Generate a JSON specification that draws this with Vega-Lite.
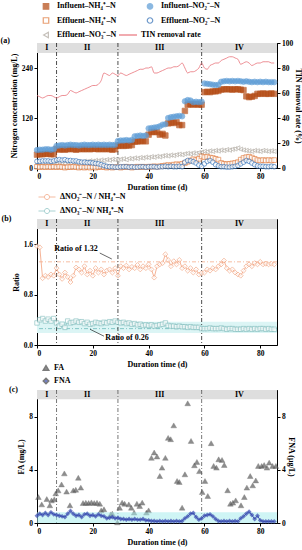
{
"$schema": "https://vega.github.io/schema/vega-lite/v6.json",
"padding": {"left": 0, "top": 1, "right": 0, "bottom": 0},
"background": "white",
"config": {
 "font": "Liberation Serif",
 "view": {"stroke": "#000", "strokeWidth": 1},
 "axis": {"labelFont": "Liberation Serif", "labelFontWeight": "bold", "labelFontSize": 7.5, "labelColor": "#000", "titleFont": "Liberation Serif", "titleFontWeight": "bold", "titleFontSize": 8, "titleColor": "#000", "domainColor": "#000", "tickColor": "#000", "grid": false, "tickSize": 3, "labelPadding": 1.5, "titlePadding": 3},
 "axisX": {"values": [0, 20, 40, 60, 80]},
 "legend": {"labelFont": "Liberation Serif", "labelFontWeight": "bold", "labelFontSize": 8, "labelColor": "#000"},
 "title": {"font": "Liberation Serif", "fontWeight": "bold", "fontSize": 8, "color": "#000"},
 "text": {"font": "Liberation Serif"}
},
"datasets": {
 "phases": [{"p": "I", "d": 0, "e": 7, "m": 3.5}, {"p": "II", "d": 7, "e": 29, "m": 18}, {"p": "III", "d": 29, "e": 59, "m": 44}, {"p": "IV", "d": 59, "e": 86, "m": 72.5}],
 "cuts": [{"d": 7}, {"d": 29}, {"d": 59}],
 "inNH4": [{"d":0,"v":32},{"d":1,"v":33},{"d":2,"v":33},{"d":3,"v":34},{"d":4,"v":34},{"d":5,"v":33},{"d":6,"v":33},{"d":7,"v":46},{"d":8,"v":44},{"d":9,"v":45},{"d":10,"v":44},{"d":11,"v":45},{"d":12,"v":46},{"d":13,"v":45},{"d":14,"v":44},{"d":15,"v":45},{"d":16,"v":46},{"d":17,"v":45},{"d":18,"v":46},{"d":19,"v":45},{"d":20,"v":46},{"d":21,"v":46},{"d":22,"v":45},{"d":23,"v":46},{"d":24,"v":45},{"d":25,"v":46},{"d":26,"v":45},{"d":27,"v":44},{"d":28,"v":45},{"d":29,"v":53},{"d":30,"v":54},{"d":31,"v":53},{"d":32,"v":54},{"d":33,"v":54},{"d":34,"v":55},{"d":35,"v":63},{"d":36,"v":64},{"d":37,"v":64},{"d":38,"v":65},{"d":39,"v":64},{"d":40,"v":80},{"d":41,"v":86},{"d":42,"v":87},{"d":43,"v":86},{"d":44,"v":80},{"d":45,"v":82},{"d":46,"v":78},{"d":47,"v":107},{"d":48,"v":109},{"d":49,"v":108},{"d":50,"v":110},{"d":51,"v":103},{"d":52,"v":103},{"d":53,"v":137},{"d":54,"v":152},{"d":55,"v":153},{"d":56,"v":152},{"d":57,"v":153},{"d":58,"v":152},{"d":59,"v":152},{"d":60,"v":182},{"d":61,"v":183},{"d":62,"v":182},{"d":63,"v":184},{"d":64,"v":184},{"d":65,"v":185},{"d":66,"v":188},{"d":67,"v":189},{"d":68,"v":189},{"d":69,"v":189},{"d":70,"v":188},{"d":71,"v":189},{"d":72,"v":189},{"d":73,"v":188},{"d":74,"v":187},{"d":75,"v":172},{"d":76,"v":170},{"d":77,"v":171},{"d":78,"v":173},{"d":79,"v":178},{"d":80,"v":178},{"d":81,"v":179},{"d":82,"v":178},{"d":83,"v":178},{"d":84,"v":179},{"d":85,"v":178}],
 "inNO2": [{"d":0,"v":43},{"d":1,"v":44},{"d":2,"v":44},{"d":3,"v":45},{"d":4,"v":45},{"d":5,"v":44},{"d":6,"v":45},{"d":7,"v":53},{"d":8,"v":54},{"d":9,"v":55},{"d":10,"v":54},{"d":11,"v":55},{"d":12,"v":56},{"d":13,"v":55},{"d":14,"v":55},{"d":15,"v":54},{"d":16,"v":55},{"d":17,"v":56},{"d":18,"v":55},{"d":19,"v":55},{"d":20,"v":56},{"d":21,"v":55},{"d":22,"v":56},{"d":23,"v":55},{"d":24,"v":56},{"d":25,"v":55},{"d":26,"v":56},{"d":27,"v":55},{"d":28,"v":56},{"d":29,"v":65},{"d":30,"v":66},{"d":31,"v":66},{"d":32,"v":67},{"d":33,"v":66},{"d":34,"v":67},{"d":35,"v":76},{"d":36,"v":77},{"d":37,"v":78},{"d":38,"v":77},{"d":39,"v":78},{"d":40,"v":95},{"d":41,"v":96},{"d":42,"v":97},{"d":43,"v":98},{"d":44,"v":100},{"d":45,"v":104},{"d":46,"v":105},{"d":47,"v":120},{"d":48,"v":122},{"d":49,"v":123},{"d":50,"v":124},{"d":51,"v":125},{"d":52,"v":124},{"d":53,"v":160},{"d":54,"v":163},{"d":55,"v":162},{"d":56,"v":158},{"d":57,"v":159},{"d":58,"v":158},{"d":59,"v":159},{"d":60,"v":203},{"d":61,"v":202},{"d":62,"v":201},{"d":63,"v":200},{"d":64,"v":199},{"d":65,"v":200},{"d":66,"v":207},{"d":67,"v":208},{"d":68,"v":209},{"d":69,"v":208},{"d":70,"v":209},{"d":71,"v":208},{"d":72,"v":209},{"d":73,"v":208},{"d":74,"v":207},{"d":75,"v":208},{"d":76,"v":207},{"d":77,"v":206},{"d":78,"v":207},{"d":79,"v":206},{"d":80,"v":207},{"d":81,"v":206},{"d":82,"v":207},{"d":83,"v":206},{"d":84,"v":206},{"d":85,"v":206}],
 "effNH4": [{"d":0,"v":3},{"d":1,"v":2},{"d":2,"v":3},{"d":3,"v":2},{"d":4,"v":3},{"d":5,"v":2},{"d":6,"v":3},{"d":7,"v":2},{"d":8,"v":3},{"d":9,"v":2},{"d":10,"v":1},{"d":11,"v":2},{"d":12,"v":2},{"d":13,"v":3},{"d":14,"v":2},{"d":15,"v":1},{"d":16,"v":2},{"d":17,"v":1},{"d":18,"v":2},{"d":19,"v":1},{"d":20,"v":2},{"d":21,"v":1},{"d":22,"v":2},{"d":23,"v":3},{"d":24,"v":2},{"d":25,"v":1},{"d":26,"v":2},{"d":27,"v":1},{"d":28,"v":2},{"d":29,"v":2},{"d":30,"v":1},{"d":31,"v":2},{"d":32,"v":3},{"d":33,"v":2},{"d":34,"v":1},{"d":35,"v":2},{"d":36,"v":3},{"d":37,"v":2},{"d":38,"v":3},{"d":39,"v":2},{"d":40,"v":3},{"d":41,"v":3},{"d":42,"v":4},{"d":43,"v":3},{"d":44,"v":4},{"d":45,"v":5},{"d":46,"v":6},{"d":47,"v":7},{"d":48,"v":6},{"d":49,"v":8},{"d":50,"v":9},{"d":51,"v":8},{"d":52,"v":10},{"d":53,"v":12},{"d":54,"v":15},{"d":55,"v":18},{"d":56,"v":21},{"d":57,"v":19},{"d":58,"v":22},{"d":59,"v":28},{"d":60,"v":26},{"d":61,"v":27},{"d":62,"v":25},{"d":63,"v":24},{"d":64,"v":22},{"d":65,"v":20},{"d":66,"v":12},{"d":67,"v":10},{"d":68,"v":9},{"d":69,"v":10},{"d":70,"v":11},{"d":71,"v":12},{"d":72,"v":14},{"d":73,"v":20},{"d":74,"v":24},{"d":75,"v":26},{"d":76,"v":27},{"d":77,"v":25},{"d":78,"v":22},{"d":79,"v":19},{"d":80,"v":18},{"d":81,"v":19},{"d":82,"v":18},{"d":83,"v":19},{"d":84,"v":18},{"d":85,"v":19}],
 "effNO2": [{"d":0,"v":16},{"d":1,"v":16},{"d":2,"v":17},{"d":3,"v":17},{"d":4,"v":17},{"d":5,"v":16},{"d":6,"v":17},{"d":7,"v":19},{"d":8,"v":20},{"d":9,"v":19},{"d":10,"v":20},{"d":11,"v":18},{"d":12,"v":18},{"d":13,"v":17},{"d":14,"v":17},{"d":15,"v":15},{"d":16,"v":14},{"d":17,"v":14},{"d":18,"v":13},{"d":19,"v":13},{"d":20,"v":12},{"d":21,"v":11},{"d":22,"v":10},{"d":23,"v":8},{"d":24,"v":6},{"d":25,"v":4},{"d":26,"v":3},{"d":27,"v":3},{"d":28,"v":2},{"d":29,"v":2},{"d":30,"v":3},{"d":31,"v":3},{"d":32,"v":3},{"d":33,"v":2},{"d":34,"v":3},{"d":35,"v":2},{"d":36,"v":2},{"d":37,"v":3},{"d":38,"v":3},{"d":39,"v":2},{"d":40,"v":3},{"d":41,"v":3},{"d":42,"v":3},{"d":43,"v":2},{"d":44,"v":3},{"d":45,"v":3},{"d":46,"v":4},{"d":47,"v":3},{"d":48,"v":4},{"d":49,"v":3},{"d":50,"v":3},{"d":51,"v":4},{"d":52,"v":3},{"d":53,"v":14},{"d":54,"v":18},{"d":55,"v":17},{"d":56,"v":15},{"d":57,"v":12},{"d":58,"v":7},{"d":59,"v":4},{"d":60,"v":10},{"d":61,"v":16},{"d":62,"v":18},{"d":63,"v":14},{"d":64,"v":8},{"d":65,"v":5},{"d":66,"v":3},{"d":67,"v":3},{"d":68,"v":2},{"d":69,"v":2},{"d":70,"v":3},{"d":71,"v":4},{"d":72,"v":6},{"d":73,"v":10},{"d":74,"v":14},{"d":75,"v":18},{"d":76,"v":16},{"d":77,"v":12},{"d":78,"v":8},{"d":79,"v":5},{"d":80,"v":4},{"d":81,"v":4},{"d":82,"v":3},{"d":83,"v":3},{"d":84,"v":4},{"d":85,"v":3}],
 "effNO3": [{"d":0,"v":10},{"d":1,"v":12},{"d":2,"v":11},{"d":3,"v":9},{"d":4,"v":10},{"d":5,"v":12},{"d":6,"v":10},{"d":7,"v":11},{"d":8,"v":13},{"d":9,"v":12},{"d":10,"v":11},{"d":11,"v":13},{"d":12,"v":12},{"d":13,"v":14},{"d":14,"v":13},{"d":15,"v":15},{"d":16,"v":14},{"d":17,"v":16},{"d":18,"v":15},{"d":19,"v":17},{"d":20,"v":16},{"d":21,"v":18},{"d":22,"v":17},{"d":23,"v":19},{"d":24,"v":18},{"d":25,"v":20},{"d":26,"v":19},{"d":27,"v":21},{"d":28,"v":20},{"d":29,"v":19},{"d":30,"v":21},{"d":31,"v":22},{"d":32,"v":20},{"d":33,"v":23},{"d":34,"v":22},{"d":35,"v":24},{"d":36,"v":23},{"d":37,"v":25},{"d":38,"v":24},{"d":39,"v":26},{"d":40,"v":25},{"d":41,"v":27},{"d":42,"v":26},{"d":43,"v":28},{"d":44,"v":27},{"d":45,"v":29},{"d":46,"v":30},{"d":47,"v":29},{"d":48,"v":31},{"d":49,"v":30},{"d":50,"v":32},{"d":51,"v":33},{"d":52,"v":32},{"d":53,"v":34},{"d":54,"v":35},{"d":55,"v":34},{"d":56,"v":36},{"d":57,"v":35},{"d":58,"v":37},{"d":59,"v":38},{"d":60,"v":40},{"d":61,"v":39},{"d":62,"v":41},{"d":63,"v":40},{"d":64,"v":42},{"d":65,"v":41},{"d":66,"v":43},{"d":67,"v":42},{"d":68,"v":44},{"d":69,"v":43},{"d":70,"v":45},{"d":71,"v":46},{"d":72,"v":48},{"d":73,"v":45},{"d":74,"v":43},{"d":75,"v":42},{"d":76,"v":41},{"d":77,"v":40},{"d":78,"v":42},{"d":79,"v":41},{"d":80,"v":40},{"d":81,"v":42},{"d":82,"v":41},{"d":83,"v":40},{"d":84,"v":41},{"d":85,"v":40}],
 "tin": [{"d":0,"v":58},{"d":1,"v":57},{"d":2,"v":56},{"d":3,"v":57},{"d":4,"v":58},{"d":5,"v":58},{"d":6,"v":57},{"d":7,"v":56},{"d":8,"v":57},{"d":9,"v":58},{"d":10,"v":58},{"d":11,"v":59},{"d":12,"v":62},{"d":13,"v":61},{"d":14,"v":60},{"d":15,"v":61},{"d":16,"v":62},{"d":17,"v":63},{"d":18,"v":64},{"d":19,"v":65},{"d":20,"v":66},{"d":21,"v":66},{"d":22,"v":67},{"d":23,"v":70},{"d":24,"v":76},{"d":25,"v":75},{"d":26,"v":74},{"d":27,"v":76},{"d":28,"v":75},{"d":29,"v":74},{"d":30,"v":76},{"d":31,"v":75},{"d":32,"v":74},{"d":33,"v":75},{"d":34,"v":76},{"d":35,"v":77},{"d":36,"v":78},{"d":37,"v":79},{"d":38,"v":79},{"d":39,"v":80},{"d":40,"v":80},{"d":41,"v":81},{"d":42,"v":76},{"d":43,"v":76},{"d":44,"v":77},{"d":45,"v":78},{"d":46,"v":79},{"d":47,"v":80},{"d":48,"v":80},{"d":49,"v":81},{"d":50,"v":81},{"d":51,"v":82},{"d":52,"v":84},{"d":53,"v":80},{"d":54,"v":76},{"d":55,"v":77},{"d":56,"v":77},{"d":57,"v":78},{"d":58,"v":80},{"d":59,"v":84},{"d":60,"v":80},{"d":61,"v":79},{"d":62,"v":82},{"d":63,"v":83},{"d":64,"v":84},{"d":65,"v":84},{"d":66,"v":86},{"d":67,"v":87},{"d":68,"v":88},{"d":69,"v":89},{"d":70,"v":89},{"d":71,"v":88},{"d":72,"v":87},{"d":73,"v":83},{"d":74,"v":84},{"d":75,"v":85},{"d":76,"v":84},{"d":77,"v":82},{"d":78,"v":83},{"d":79,"v":84},{"d":80,"v":84},{"d":81,"v":85},{"d":82,"v":85},{"d":83,"v":85},{"d":84,"v":84},{"d":85,"v":84}],
 "rNO2": [{"d":0,"v":1.57},{"d":1,"v":1.55},{"d":2,"v":1.06},{"d":3,"v":1.10},{"d":4,"v":1.08},{"d":5,"v":1.12},{"d":6,"v":1.10},{"d":7,"v":1.22},{"d":8,"v":1.12},{"d":9,"v":1.05},{"d":10,"v":1.15},{"d":11,"v":1.08},{"d":12,"v":1.00},{"d":13,"v":1.10},{"d":14,"v":1.23},{"d":15,"v":1.20},{"d":16,"v":1.15},{"d":17,"v":1.25},{"d":18,"v":1.12},{"d":19,"v":1.18},{"d":20,"v":1.10},{"d":21,"v":1.22},{"d":22,"v":1.15},{"d":23,"v":1.20},{"d":24,"v":1.12},{"d":25,"v":1.18},{"d":26,"v":1.20},{"d":27,"v":1.15},{"d":28,"v":1.22},{"d":29,"v":1.10},{"d":30,"v":1.25},{"d":31,"v":1.22},{"d":32,"v":1.26},{"d":33,"v":1.20},{"d":34,"v":1.24},{"d":35,"v":1.22},{"d":36,"v":1.27},{"d":37,"v":1.20},{"d":38,"v":1.25},{"d":39,"v":1.22},{"d":40,"v":1.28},{"d":41,"v":1.20},{"d":42,"v":1.07},{"d":43,"v":1.25},{"d":44,"v":1.28},{"d":45,"v":1.30},{"d":46,"v":1.44},{"d":47,"v":1.35},{"d":48,"v":1.25},{"d":49,"v":1.33},{"d":50,"v":1.28},{"d":51,"v":1.35},{"d":52,"v":1.22},{"d":53,"v":1.25},{"d":54,"v":1.18},{"d":55,"v":1.22},{"d":56,"v":1.15},{"d":57,"v":1.20},{"d":58,"v":1.12},{"d":59,"v":1.14},{"d":60,"v":1.15},{"d":61,"v":1.20},{"d":62,"v":1.18},{"d":63,"v":1.22},{"d":64,"v":1.20},{"d":65,"v":1.25},{"d":66,"v":1.28},{"d":67,"v":1.34},{"d":68,"v":1.22},{"d":69,"v":1.18},{"d":70,"v":1.20},{"d":71,"v":1.15},{"d":72,"v":1.12},{"d":73,"v":1.10},{"d":74,"v":1.18},{"d":75,"v":1.25},{"d":76,"v":1.28},{"d":77,"v":1.25},{"d":78,"v":1.30},{"d":79,"v":1.28},{"d":80,"v":1.32},{"d":81,"v":1.28},{"d":82,"v":1.29},{"d":83,"v":1.28},{"d":84,"v":1.29},{"d":85,"v":1.28}],
 "rNO3": [{"d":0,"v":0.35},{"d":1,"v":0.40},{"d":2,"v":0.42},{"d":3,"v":0.38},{"d":4,"v":0.41},{"d":5,"v":0.38},{"d":6,"v":0.42},{"d":7,"v":0.35},{"d":8,"v":0.30},{"d":9,"v":0.33},{"d":10,"v":0.28},{"d":11,"v":0.38},{"d":12,"v":0.35},{"d":13,"v":0.36},{"d":14,"v":0.38},{"d":15,"v":0.36},{"d":16,"v":0.37},{"d":17,"v":0.34},{"d":18,"v":0.36},{"d":19,"v":0.33},{"d":20,"v":0.34},{"d":21,"v":0.36},{"d":22,"v":0.35},{"d":23,"v":0.34},{"d":24,"v":0.36},{"d":25,"v":0.35},{"d":26,"v":0.37},{"d":27,"v":0.36},{"d":28,"v":0.38},{"d":29,"v":0.36},{"d":30,"v":0.35},{"d":31,"v":0.36},{"d":32,"v":0.34},{"d":33,"v":0.35},{"d":34,"v":0.33},{"d":35,"v":0.34},{"d":36,"v":0.32},{"d":37,"v":0.33},{"d":38,"v":0.31},{"d":39,"v":0.32},{"d":40,"v":0.31},{"d":41,"v":0.32},{"d":42,"v":0.30},{"d":43,"v":0.31},{"d":44,"v":0.32},{"d":45,"v":0.33},{"d":46,"v":0.35},{"d":47,"v":0.31},{"d":48,"v":0.30},{"d":49,"v":0.30},{"d":50,"v":0.29},{"d":51,"v":0.30},{"d":52,"v":0.29},{"d":53,"v":0.29},{"d":54,"v":0.28},{"d":55,"v":0.29},{"d":56,"v":0.28},{"d":57,"v":0.28},{"d":58,"v":0.28},{"d":59,"v":0.26},{"d":60,"v":0.26},{"d":61,"v":0.26},{"d":62,"v":0.27},{"d":63,"v":0.26},{"d":64,"v":0.26},{"d":65,"v":0.26},{"d":66,"v":0.27},{"d":67,"v":0.26},{"d":68,"v":0.25},{"d":69,"v":0.26},{"d":70,"v":0.26},{"d":71,"v":0.25},{"d":72,"v":0.25},{"d":73,"v":0.25},{"d":74,"v":0.26},{"d":75,"v":0.25},{"d":76,"v":0.26},{"d":77,"v":0.25},{"d":78,"v":0.26},{"d":79,"v":0.25},{"d":80,"v":0.26},{"d":81,"v":0.26},{"d":82,"v":0.25},{"d":83,"v":0.26},{"d":84,"v":0.25},{"d":85,"v":0.25}],
 "fa": [{"d":0.5,"v":1.95},{"d":1.7,"v":1.4},{"d":3.5,"v":1.8},{"d":4.6,"v":1.33},{"d":5.2,"v":1.7},{"d":6.2,"v":1.78},{"d":6.7,"v":2.23},{"d":7.6,"v":2.45},{"d":8.8,"v":2.9},{"d":9.8,"v":3.73},{"d":10.6,"v":2.36},{"d":11.8,"v":1.33},{"d":13,"v":2.45},{"d":13.9,"v":2.5},{"d":14.8,"v":3.4},{"d":15.7,"v":2.66},{"d":16.5,"v":1.5},{"d":17.5,"v":1.52},{"d":18.5,"v":1.5},{"d":19.5,"v":1.55},{"d":20.5,"v":1.5},{"d":21.5,"v":1.52},{"d":22.5,"v":1.45},{"d":23,"v":0.95},{"d":24,"v":1.03},{"d":26.4,"v":0.65},{"d":27,"v":0.7},{"d":28.8,"v":0.05},{"d":29.6,"v":1.15},{"d":30.5,"v":1.53},{"d":31.4,"v":1.45},{"d":32.9,"v":1.4},{"d":33.8,"v":1.15},{"d":34.8,"v":0.78},{"d":35.8,"v":1.45},{"d":36.8,"v":1.28},{"d":37.7,"v":1.53},{"d":39.2,"v":0.78},{"d":40,"v":0.95},{"d":41,"v":4.9},{"d":42,"v":5.3},{"d":43,"v":5.0},{"d":44,"v":3.53},{"d":44.8,"v":4.16},{"d":46,"v":4.9},{"d":47,"v":6.4},{"d":47.9,"v":6.3},{"d":49,"v":7.34},{"d":50.2,"v":3.16},{"d":51,"v":3.08},{"d":52,"v":1.15},{"d":53,"v":3.66},{"d":54,"v":9.0},{"d":55.2,"v":6.17},{"d":56.4,"v":4.34},{"d":57.3,"v":4.59},{"d":58.2,"v":3.9},{"d":59.2,"v":2.33},{"d":60.2,"v":3.16},{"d":61.2,"v":2.03},{"d":62.4,"v":6.0},{"d":63.3,"v":4.29},{"d":64.3,"v":4.16},{"d":65.1,"v":4.79},{"d":66.3,"v":4.74},{"d":67.1,"v":4.36},{"d":68.3,"v":2.46},{"d":69.3,"v":1.45},{"d":70.2,"v":1.53},{"d":71.2,"v":1.7},{"d":73.1,"v":1.33},{"d":74.3,"v":1.95},{"d":75.2,"v":2.66},{"d":76.4,"v":3.53},{"d":77.3,"v":2.83},{"d":78.4,"v":3.2},{"d":79.3,"v":4.29},{"d":80.5,"v":4.29},{"d":81.4,"v":4.36},{"d":82.4,"v":4.16},{"d":83.2,"v":4.54},{"d":84.4,"v":4.29},{"d":85.6,"v":4.29}],
 "fna": [{"d":0,"v":0.55},{"d":1,"v":0.7},{"d":2,"v":0.6},{"d":3,"v":0.75},{"d":4,"v":0.6},{"d":5,"v":0.8},{"d":6,"v":0.65},{"d":7,"v":0.6},{"d":8,"v":0.55},{"d":9,"v":0.5},{"d":10,"v":0.45},{"d":11,"v":0.7},{"d":12,"v":0.9},{"d":13,"v":0.7},{"d":14,"v":0.55},{"d":15,"v":0.6},{"d":16,"v":0.45},{"d":17,"v":0.65},{"d":18,"v":0.7},{"d":19,"v":0.55},{"d":20,"v":0.6},{"d":21,"v":0.5},{"d":22,"v":0.65},{"d":23,"v":0.55},{"d":24,"v":0.5},{"d":25,"v":0.35},{"d":26,"v":0.4},{"d":27,"v":0.45},{"d":28,"v":0.35},{"d":29,"v":0.4},{"d":30,"v":0.3},{"d":31,"v":0.3},{"d":32,"v":0.25},{"d":33,"v":0.3},{"d":34,"v":0.25},{"d":35,"v":0.3},{"d":36,"v":0.25},{"d":37,"v":0.25},{"d":38,"v":0.3},{"d":39,"v":0.2},{"d":40,"v":0.2},{"d":41,"v":0.15},{"d":42,"v":0.15},{"d":43,"v":0.12},{"d":44,"v":0.15},{"d":45,"v":0.12},{"d":46,"v":0.15},{"d":47,"v":0.12},{"d":48,"v":0.15},{"d":49,"v":0.12},{"d":50,"v":0.15},{"d":51,"v":0.12},{"d":52,"v":0.15},{"d":53,"v":0.35},{"d":54,"v":0.5},{"d":55,"v":0.7},{"d":56,"v":0.75},{"d":57,"v":0.45},{"d":58,"v":0.25},{"d":59,"v":0.35},{"d":60,"v":0.55},{"d":61,"v":0.6},{"d":62,"v":0.65},{"d":63,"v":0.5},{"d":64,"v":0.3},{"d":65,"v":0.15},{"d":66,"v":0.12},{"d":67,"v":0.15},{"d":68,"v":0.12},{"d":69,"v":0.15},{"d":70,"v":0.12},{"d":71,"v":0.15},{"d":72,"v":0.12},{"d":73,"v":0.35},{"d":74,"v":0.5},{"d":75,"v":0.7},{"d":76,"v":0.85},{"d":77,"v":0.6},{"d":78,"v":0.3},{"d":79,"v":0.55},{"d":80,"v":0.2},{"d":81,"v":0.12},{"d":82,"v":0.12},{"d":83,"v":0.12},{"d":84,"v":0.12},{"d":85,"v":0.12}]
},
"bounds": "flush",
"spacing": 51,
"resolve": {"scale": {"color": "independent", "shape": "independent", "fill": "independent", "stroke": "independent"}},
"vconcat": [
 {
  "width": 240, "height": 125,
  "title": {"text": "(a)", "orient": "left", "anchor": "end", "frame": "group", "angle": 0, "align": "right", "baseline": "middle", "offset": -9, "dy": -2},
  "resolve": {"scale": {"y": "independent"}},
  "layer": [
   {"layer": [
    {"data": {"name": "phases"}, "mark": {"type": "rect", "fill": "#dedede"},
     "encoding": {"x": {"field": "d", "type": "quantitative", "title": "Duration time (d)", "scale": {"domain": [0, 86], "nice": false, "zero": false}}, "x2": {"field": "e"},
      "y": {"datum": 276, "type": "quantitative", "title": "Nitrogen concentration (mg/L)", "scale": {"domain": [0, 300], "nice": false}, "axis": {"values": [0, 60, 120, 180, 240, 300]}}, "y2": {"datum": 300}}},
    {"data": {"name": "phases"}, "mark": {"type": "text", "fontWeight": "bold", "fontSize": 8, "baseline": "middle", "color": "#000"},
     "encoding": {"x": {"field": "m", "type": "quantitative", "title": "Duration time (d)"}, "y": {"datum": 288, "type": "quantitative", "title": "Nitrogen concentration (mg/L)"}, "text": {"field": "p"}}},
    {"data": {"name": "cuts"}, "mark": {"type": "rule", "color": "#222", "strokeWidth": 0.8, "strokeDash": [4, 2, 1, 2]},
     "encoding": {"x": {"field": "d", "type": "quantitative", "title": "Duration time (d)"}}},
    {"data": {"name": "effNO3"}, "mark": {"type": "point", "filled": true, "size": 20, "strokeWidth": 0.9},
     "encoding": {"x": {"field": "d", "type": "quantitative", "title": "Duration time (d)"}, "y": {"field": "v", "type": "quantitative", "title": "Nitrogen concentration (mg/L)"},
      "stroke": {"datum": "Effluent–NO₃⁻–N"}, "fill": {"datum": "Effluent–NO₃⁻–N"}, "shape": {"datum": "Effluent–NO₃⁻–N"}}},
    {"data": {"name": "effNH4"}, "mark": {"type": "point", "filled": true, "size": 22, "strokeWidth": 0.9},
     "encoding": {"x": {"field": "d", "type": "quantitative", "title": "Duration time (d)"}, "y": {"field": "v", "type": "quantitative", "title": "Nitrogen concentration (mg/L)"},
      "stroke": {"datum": "Effluent–NH₄⁺–N"}, "fill": {"datum": "Effluent–NH₄⁺–N"}, "shape": {"datum": "Effluent–NH₄⁺–N"}}},
    {"data": {"name": "effNO2"}, "mark": {"type": "point", "filled": true, "size": 22, "strokeWidth": 0.9},
     "encoding": {"x": {"field": "d", "type": "quantitative", "title": "Duration time (d)"}, "y": {"field": "v", "type": "quantitative", "title": "Nitrogen concentration (mg/L)"},
      "stroke": {"datum": "Effluent–NO₂⁻–N"}, "fill": {"datum": "Effluent–NO₂⁻–N"}, "shape": {"datum": "Effluent–NO₂⁻–N"}}},
    {"data": {"name": "inNH4"}, "mark": {"type": "point", "filled": true, "size": 30, "strokeWidth": 0.8},
     "encoding": {"x": {"field": "d", "type": "quantitative", "title": "Duration time (d)"}, "y": {"field": "v", "type": "quantitative", "title": "Nitrogen concentration (mg/L)"},
      "stroke": {"datum": "Influent–NH₄⁺–N"}, "fill": {"datum": "Influent–NH₄⁺–N"}, "shape": {"datum": "Influent–NH₄⁺–N"}}},
    {"data": {"name": "inNO2"}, "mark": {"type": "point", "filled": true, "size": 30, "strokeWidth": 0.8},
     "encoding": {"x": {"field": "d", "type": "quantitative", "title": "Duration time (d)"}, "y": {"field": "v", "type": "quantitative", "title": "Nitrogen concentration (mg/L)"},
      "stroke": {"datum": "Influent–NO₂⁻–N", "scale": {"domain": ["Influent–NH₄⁺–N", "Effluent–NH₄⁺–N", "Effluent–NO₃⁻–N", "Influent–NO₂⁻–N", "Effluent–NO₂⁻–N"], "range": ["#b3470f", "#e0783a", "#ada69d", "#5b9bd5", "#2f6db5"]},
       "legend": {"orient": "none", "legendX": 5, "legendY": -41, "columns": 2, "columnPadding": 27, "rowPadding": 2.5, "symbolSize": 30, "labelOffset": 7, "symbolStrokeWidth": 1.2, "title": null}},
      "fill": {"datum": "Influent–NO₂⁻–N", "scale": {"domain": ["Influent–NH₄⁺–N", "Effluent–NH₄⁺–N", "Effluent–NO₃⁻–N", "Influent–NO₂⁻–N", "Effluent–NO₂⁻–N"], "range": ["#b3470f", "#ffffff", "#ffffff", "#5b9bd5", "#ffffff"]},
       "legend": {"orient": "none", "legendX": 5, "legendY": -41, "columns": 2, "columnPadding": 27, "rowPadding": 2.5, "symbolSize": 30, "labelOffset": 7, "symbolStrokeWidth": 1.2, "title": null}},
      "shape": {"datum": "Influent–NO₂⁻–N", "scale": {"domain": ["Influent–NH₄⁺–N", "Effluent–NH₄⁺–N", "Effluent–NO₃⁻–N", "Influent–NO₂⁻–N", "Effluent–NO₂⁻–N"], "range": ["square", "square", "triangle-left", "circle", "circle"]},
       "legend": {"orient": "none", "legendX": 5, "legendY": -41, "columns": 2, "columnPadding": 27, "rowPadding": 2.5, "symbolSize": 30, "labelOffset": 7, "symbolStrokeWidth": 1.2, "title": null}}}}
   ]},
   {"data": {"name": "tin"}, "mark": {"type": "line", "strokeWidth": 0.8, "interpolate": "monotone"},
    "encoding": {"x": {"field": "d", "type": "quantitative", "title": "Duration time (d)"},
     "y": {"field": "v", "type": "quantitative", "title": "TIN removal rate (%)", "scale": {"domain": [0, 100], "nice": false}, "axis": {"orient": "right", "values": [0, 20, 40, 60, 80, 100], "titlePadding": 1}},
     "color": {"datum": "TIN removal rate", "scale": {"range": ["#e8737b"]}, "legend": {"orient": "none", "legendX": 81, "legendY": -18, "symbolSize": 324, "symbolStrokeWidth": 1.2, "labelOffset": 3, "title": null}}}}
  ]
 },
 {
  "bounds": "flush",
  "spacing": 45,
  "resolve": {"scale": {"color": "independent", "shape": "independent", "fill": "independent", "stroke": "independent"}},
  "vconcat": [
 {
  "width": 240, "height": 126,
  "title": {"text": "(b)", "orient": "left", "anchor": "end", "frame": "group", "angle": 0, "align": "right", "baseline": "middle", "offset": -9, "dy": 0},
  "layer": [
   {"data": {"name": "phases"}, "mark": {"type": "rect", "fill": "#dedede"},
    "encoding": {"x": {"field": "d", "type": "quantitative", "title": "Duration time (d)", "scale": {"domain": [0, 86], "nice": false, "zero": false}}, "x2": {"field": "e"},
     "y": {"datum": 1.84, "type": "quantitative", "title": "Ratio", "scale": {"domain": [0, 2], "nice": false}, "axis": {"values": [0, 0.4, 0.8, 1.2, 1.6, 2.0], "format": ".1f"}}, "y2": {"datum": 2.0}}},
   {"data": {"name": "phases"}, "mark": {"type": "text", "fontWeight": "bold", "fontSize": 8, "baseline": "middle", "color": "#000"},
    "encoding": {"x": {"field": "m", "type": "quantitative", "title": "Duration time (d)"}, "y": {"datum": 1.92, "type": "quantitative", "title": "Ratio"}, "text": {"field": "p"}}},
   {"data": {"values": [{}]}, "mark": {"type": "rect", "fill": "#dcf5f5"},
    "encoding": {"x": {"datum": 0, "type": "quantitative", "title": "Duration time (d)"}, "x2": {"datum": 86}, "y": {"datum": 0.19, "type": "quantitative", "title": "Ratio"}, "y2": {"datum": 0.37}}},
   {"data": {"values": [{}]}, "mark": {"type": "rule", "color": "#f2a07b", "strokeWidth": 0.7, "strokeDash": [4, 2, 1, 2]},
    "encoding": {"y": {"datum": 1.32, "type": "quantitative", "title": "Ratio"}}},
   {"data": {"values": [{}]}, "mark": {"type": "rule", "color": "#5fb3b3", "strokeWidth": 0.7, "strokeDash": [4, 2, 1, 2]},
    "encoding": {"y": {"datum": 0.26, "type": "quantitative", "title": "Ratio"}}},
   {"data": {"name": "cuts"}, "mark": {"type": "rule", "color": "#222", "strokeWidth": 0.8, "strokeDash": [4, 2, 1, 2]},
    "encoding": {"x": {"field": "d", "type": "quantitative", "title": "Duration time (d)"}}},
   {"data": {"name": "rNO2"}, "mark": {"type": "line", "color": "#f2a07b", "strokeWidth": 0.8},
    "encoding": {"x": {"field": "d", "type": "quantitative", "title": "Duration time (d)"}, "y": {"field": "v", "type": "quantitative", "title": "Ratio"}}},
   {"data": {"name": "rNO2"}, "mark": {"type": "point", "shape": "diamond", "filled": false, "fill": "white", "size": 24, "strokeWidth": 0.9},
    "encoding": {"x": {"field": "d", "type": "quantitative", "title": "Duration time (d)"}, "y": {"field": "v", "type": "quantitative", "title": "Ratio"},
     "color": {"datum": "ΔNO₂⁻–N / NH₄⁺–N", "scale": {"domain": ["ΔNO₂⁻–N / NH₄⁺–N", "ΔNO₃⁻–N/ NH₄⁺–N"], "range": ["#f2a07b", "#86c0c0"]},
      "legend": {"orient": "none", "legendX": 5, "legendY": -27, "rowPadding": 4, "symbolSize": 72, "labelOffset": 8, "symbolStrokeWidth": 1, "symbolType": "M-2,0H-0.6M0.6,0H2M0.6,0A0.6,0.6,0,1,1,-0.6,0A0.6,0.6,0,1,1,0.6,0", "title": null}}}},
   {"data": {"name": "rNO3"}, "mark": {"type": "line", "color": "#86c0c0", "strokeWidth": 0.8},
    "encoding": {"x": {"field": "d", "type": "quantitative", "title": "Duration time (d)"}, "y": {"field": "v", "type": "quantitative", "title": "Ratio"}}},
   {"data": {"name": "rNO3"}, "mark": {"type": "point", "shape": "square", "filled": false, "fill": "white", "size": 20, "strokeWidth": 0.9},
    "encoding": {"x": {"field": "d", "type": "quantitative", "title": "Duration time (d)"}, "y": {"field": "v", "type": "quantitative", "title": "Ratio"},
     "color": {"datum": "ΔNO₃⁻–N/ NH₄⁺–N"}}},
   {"data": {"values": [{}]}, "mark": {"type": "text", "text": "Ratio of 1.32", "align": "left", "baseline": "middle", "fontWeight": "bold", "fontSize": 8, "color": "#000"},
    "encoding": {"x": {"datum": 6.2, "type": "quantitative", "title": "Duration time (d)"}, "y": {"datum": 1.52, "type": "quantitative", "title": "Ratio"}}},
   {"data": {"values": [{}]}, "mark": {"type": "text", "text": "Ratio of 0.26", "align": "left", "baseline": "middle", "fontWeight": "bold", "fontSize": 8, "color": "#000"},
    "encoding": {"x": {"datum": 24.5, "type": "quantitative", "title": "Duration time (d)"}, "y": {"datum": 0.11, "type": "quantitative", "title": "Ratio"}}},
   {"data": {"values": [{}]}, "mark": {"type": "rule", "color": "#000", "strokeWidth": 0.6},
    "encoding": {"x": {"datum": 22.5, "type": "quantitative", "title": "Duration time (d)"}, "x2": {"datum": 26.8}, "y": {"datum": 1.46, "type": "quantitative", "title": "Ratio"}, "y2": {"datum": 1.365}}},
   {"data": {"values": [{}]}, "mark": {"type": "rule", "color": "#000", "strokeWidth": 0.6},
    "encoding": {"x": {"datum": 19, "type": "quantitative", "title": "Duration time (d)"}, "x2": {"datum": 24}, "y": {"datum": 0.25, "type": "quantitative", "title": "Ratio"}, "y2": {"datum": 0.14}}}
  ]
 },
 {
  "width": 240, "height": 133,
  "title": {"text": "(c)", "orient": "left", "anchor": "end", "frame": "group", "angle": 0, "align": "right", "baseline": "middle", "offset": -9, "dy": 0},
  "resolve": {"scale": {"y": "independent"}},
  "layer": [
   {"layer": [
    {"data": {"name": "phases"}, "mark": {"type": "rect", "fill": "#dedede"},
     "encoding": {"x": {"field": "d", "type": "quantitative", "title": "Duration time (d)", "scale": {"domain": [0, 86], "nice": false, "zero": false}}, "x2": {"field": "e"},
      "y": {"datum": 9.3, "type": "quantitative", "title": "FA (mg/L)", "scale": {"domain": [0, 10], "nice": false}, "axis": {"values": [0, 2, 4, 6, 8, 10]}}, "y2": {"datum": 10}}},
    {"data": {"name": "phases"}, "mark": {"type": "text", "fontWeight": "bold", "fontSize": 8, "baseline": "middle", "color": "#000"},
     "encoding": {"x": {"field": "m", "type": "quantitative", "title": "Duration time (d)"}, "y": {"datum": 9.65, "type": "quantitative", "title": "FA (mg/L)"}, "text": {"field": "p"}}},
    {"data": {"name": "cuts"}, "mark": {"type": "rule", "color": "#555", "strokeWidth": 0.8, "strokeDash": [4, 2, 1, 2]},
     "encoding": {"x": {"field": "d", "type": "quantitative", "title": "Duration time (d)"}}},
    {"data": {"name": "fa"}, "mark": {"type": "point", "filled": true, "size": 32, "stroke": "#444", "strokeWidth": 0.4},
     "encoding": {"x": {"field": "d", "type": "quantitative", "title": "Duration time (d)"}, "y": {"field": "v", "type": "quantitative", "title": "FA (mg/L)"},
      "color": {"datum": "FA", "scale": {"domain": ["FA", "FNA"], "range": ["#5e5e5e", "#3a4cb0"]}, "legend": {"orient": "none", "legendX": 5, "legendY": -26, "rowPadding": 1, "symbolSize": 30, "labelOffset": 4, "title": null}},
      "shape": {"datum": "FA", "scale": {"domain": ["FA", "FNA"], "range": ["triangle-up", "diamond"]}, "legend": {"orient": "none", "legendX": 5, "legendY": -26, "rowPadding": 1, "symbolSize": 30, "labelOffset": 4, "title": null}}}},
    {"data": {"values": [{}]}, "mark": {"type": "rect", "fill": "#a8ecec", "opacity": 0.55},
     "encoding": {"x": {"datum": 0, "type": "quantitative", "title": "Duration time (d)"}, "x2": {"datum": 86}, "y": {"datum": 0, "type": "quantitative", "title": "FA (mg/L)"}, "y2": {"datum": 0.8}}}
   ]},
   {"layer": [
    {"data": {"name": "fna"}, "mark": {"type": "line", "color": "#3a4cb0", "strokeWidth": 1},
     "encoding": {"x": {"field": "d", "type": "quantitative", "title": "Duration time (d)"},
      "y": {"field": "v", "type": "quantitative", "title": "FNA (μg/L)", "scale": {"domain": [0, 10], "nice": false}, "axis": {"orient": "right", "values": [0, 2, 4, 6, 8, 10], "titlePadding": 1}}}},
    {"data": {"name": "fna"}, "mark": {"type": "point", "filled": true, "size": 24},
     "encoding": {"x": {"field": "d", "type": "quantitative", "title": "Duration time (d)"}, "y": {"field": "v", "type": "quantitative", "title": "FNA (μg/L)"},
      "color": {"datum": "FNA"}, "shape": {"datum": "FNA"}}}
   ]}
  ]
 }
  ]
 }
]
}
